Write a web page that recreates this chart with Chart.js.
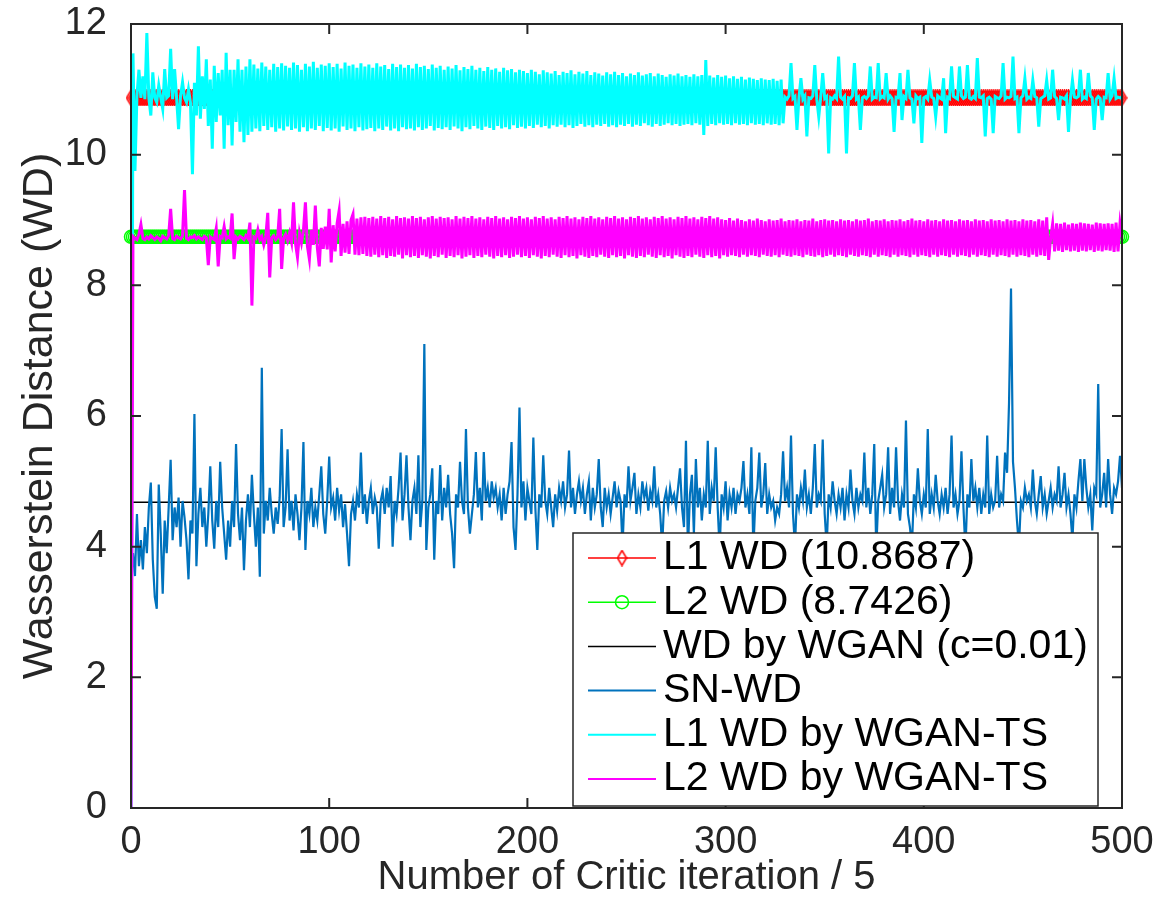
<!DOCTYPE html>
<html>
<head>
<meta charset="utf-8">
<title>Wasserstein Distance</title>
<script src="https://cdn.jsdelivr.net/npm/chart.js@4.4.0/dist/chart.umd.min.js"></script>
<style>
  html, body { margin: 0; padding: 0; background: #fff; }
  #wrap { width: 1162px; height: 906px; position: relative; }
</style>
</head>
<body>
<div id="wrap"><canvas id="wdChart"></canvas></div>
<script>
// reference distances (horizontal lines)
const l1WD = 10.8687;
const l2WD = 8.7426;
const wganWD = 4.68;

const xTicks = [0, 100, 200, 300, 400, 500];
const yTicks = [0, 2, 4, 6, 8, 10, 12];

const seriesLabels = [
  'L1 WD (10.8687)',
  'L2 WD (8.7426)',
  'WD by WGAN (c=0.01)',
  'SN-WD',
  'L1 WD by WGAN-TS',
  'L2 WD by WGAN-TS'
];

// SN-WD, one value per critic step (0..500)
const snWD = [
  3.6, 3.9, 3.55, 4.5, 3.7, 4.1, 3.65, 4.3, 3.9, 4.6, 4.98, 3.8, 3.23, 3.05, 4.95, 4.2, 3.28, 4.4, 3.9, 4.6,
  5.33, 4.1, 4.6, 4.3, 4.75, 4.0, 4.7, 4.45, 4.1, 3.5, 4.4, 4.2, 6.03, 3.7, 4.5, 4.9, 4.3, 4.6, 4.0, 4.5,
  5.23, 4.4, 3.97, 4.7, 4.3, 5.3, 4.6, 4.2, 3.8, 4.4, 4.0, 4.7, 4.3, 5.57, 4.5, 4.1, 4.6, 3.64, 4.4, 4.8,
  4.3, 5.1, 4.5, 4.0, 4.6, 3.54, 6.74, 4.2, 4.7, 4.4, 4.9, 4.5, 4.2, 4.6, 4.35, 4.75, 5.8, 4.3, 4.6, 5.49,
  4.4, 4.7, 4.25, 4.8, 4.5, 4.1, 4.6, 5.6, 3.95, 4.7, 4.5, 4.9, 4.3, 4.6, 4.4, 4.8, 5.23, 4.5, 4.2, 4.7,
  5.38, 4.6, 4.75, 4.4, 4.9, 4.55, 4.8, 4.3, 4.65, 4.2, 3.7, 4.5, 4.7, 4.4, 4.8, 4.6, 5.44, 4.5, 4.8, 4.35,
  4.7, 4.9, 4.5, 4.75, 4.6, 3.97, 4.7, 4.85, 4.5, 4.9, 4.6, 5.08, 4.0, 4.7, 4.5, 4.9, 5.44, 4.4, 4.8, 5.4,
  4.6, 4.1, 4.7, 4.9, 4.5, 5.4, 4.3, 4.7, 7.1, 3.95, 4.6, 4.8, 5.2, 3.8, 4.7, 4.5, 5.25, 4.4, 4.9, 4.6,
  5.1, 4.5, 4.2, 3.67, 4.8, 4.6, 5.3, 4.7, 4.5, 5.8, 4.6, 4.2, 4.5, 4.8, 5.45, 4.6, 4.9, 4.4, 5.45, 4.7,
  4.9, 4.6, 5.0, 4.75, 4.9, 4.6, 4.8, 4.4, 4.9, 4.5, 4.8, 5.0, 5.6, 4.3, 3.95, 4.8, 6.13, 4.6, 5.0, 4.4,
  4.9, 4.7, 4.5, 5.67, 4.6, 3.95, 4.8, 4.6, 5.4, 4.7, 4.5, 4.9, 4.6, 4.3, 4.8, 4.55, 4.9, 4.7, 5.0, 4.6,
  4.8, 5.47, 4.6, 4.9, 4.5, 4.8, 5.0, 4.7, 4.9, 4.5, 4.8, 5.0, 4.4, 4.9, 4.6, 4.8, 5.34, 4.6, 4.3, 4.9,
  4.6, 4.8, 4.5, 4.75, 5.0, 4.6, 4.85, 4.7, 4.0, 4.8, 4.6, 5.23, 4.7, 4.9, 5.13, 4.5, 4.8, 4.6, 5.0, 4.75,
  4.9, 4.55, 4.85, 4.7, 5.23, 4.6, 4.8, 4.5, 4.0, 4.7, 4.85, 4.6, 4.9, 4.7, 4.8, 4.6, 4.9, 5.2, 4.6, 4.3,
  5.62, 3.95, 4.8, 5.1, 4.2, 5.34, 4.6, 4.9, 4.4, 4.8, 4.6, 5.62, 4.5, 4.9, 4.7, 5.52, 4.6, 3.95, 4.8, 4.6,
  5.0, 4.4, 4.8, 4.6, 4.9, 4.5, 4.8, 4.7, 4.9, 5.31, 4.6, 4.8, 4.5, 5.52, 3.95, 4.7, 4.9, 5.44, 4.6, 4.8,
  5.28, 4.5, 4.8, 4.6, 4.7, 4.4, 4.6, 4.5, 4.8, 5.46, 4.7, 4.9, 4.6, 5.7, 4.5, 4.0, 4.8, 4.6, 4.9, 4.7,
  5.18, 4.6, 4.8, 4.5, 4.9, 5.57, 4.6, 4.8, 4.7, 5.64, 4.5, 4.0, 4.8, 4.6, 5.0, 4.7, 4.5, 4.8, 4.6, 4.9,
  4.4, 4.8, 4.6, 5.18, 4.7, 4.5, 4.9, 4.6, 4.8, 4.7, 5.44, 4.6, 4.9, 4.5, 4.8, 5.57, 3.95, 4.7, 4.9, 5.1,
  4.6, 4.8, 5.52, 4.5, 4.9, 4.6, 5.52, 4.7, 4.4, 4.8, 4.6, 5.93, 4.5, 4.3, 4.0, 4.8, 4.6, 5.2, 4.7, 4.5,
  4.8, 4.6, 5.8, 4.5, 4.8, 4.6, 5.1, 4.7, 4.5, 4.8, 4.6, 4.9, 4.5, 4.8, 5.7, 4.6, 4.8, 4.5, 4.7, 5.46,
  4.6, 3.95, 4.8, 4.6, 5.34, 4.7, 4.9, 4.6, 4.9, 4.5, 4.8, 4.6, 5.7, 4.5, 4.8, 4.6, 4.7, 5.39, 4.6, 4.8,
  4.7, 5.44, 5.13, 6.2, 7.95, 5.3, 4.9, 4.4, 4.0, 4.7, 4.6, 4.9, 4.7, 4.8, 4.6, 5.18, 4.7, 4.5, 4.8, 5.08,
  4.6, 4.8, 4.5, 4.7, 4.9, 4.6, 4.8, 4.7, 5.23, 4.6, 4.8, 5.13, 4.6, 4.8, 4.5, 4.1, 4.8, 4.6, 5.0, 5.34,
  4.7, 5.34, 4.9, 4.6, 4.8, 4.25, 4.9, 4.8, 6.49, 4.6, 4.8, 5.13, 4.6, 5.34, 4.8, 4.5, 4.9, 4.8, 5.0, 5.39,
  4.9
];

// L1 WD by WGAN-TS
const l1TS = [
  0, 11.55, 9.75, 10.9, 11.3, 10.87, 11.2, 10.85, 11.86, 10.87, 10.6, 11.26, 10.87, 10.8, 11.06, 10.87, 10.7, 11.31, 10.87, 10.9,
  11.62, 10.85, 11.31, 10.87, 10.39, 10.9, 11.11, 10.87, 10.8, 11.0, 10.8, 9.7, 11.1, 10.6, 11.66, 10.55, 11.2, 10.7, 11.46, 10.44,
  11.15, 10.09, 11.36, 10.5, 11.25, 10.6, 11.3, 10.09, 11.56, 10.45, 11.3, 10.14, 11.3, 10.5, 11.46, 10.35, 11.3, 10.19, 11.35, 10.3,
  11.46, 10.35, 11.38, 10.4, 11.32, 10.36, 11.41, 10.44, 11.35, 10.38, 11.3, 10.42, 11.39, 10.35, 11.34, 10.4, 11.4, 10.37, 11.36, 10.43,
  11.33, 10.38, 11.41, 10.4, 11.37, 10.35, 11.3, 10.42, 11.39, 10.36, 11.35, 10.4, 11.42, 10.38, 11.33, 10.44, 11.38, 10.36, 11.36, 10.41,
  11.4, 10.37, 11.34, 10.4, 11.39, 10.35, 11.32, 10.43, 11.41, 10.38, 11.36, 10.4, 11.38, 10.36, 11.33, 10.42, 11.4, 10.37, 11.35, 10.39,
  11.38, 10.41, 11.33, 10.36, 11.4, 10.4, 11.35, 10.38, 11.37, 10.43, 11.31, 10.37, 11.39, 10.4, 11.34, 10.36, 11.38, 10.42, 11.33, 10.39,
  11.37, 10.4, 11.32, 10.37, 11.39, 10.42, 11.34, 10.38, 11.36, 10.4, 11.31, 10.44, 11.38, 10.37, 11.33, 10.41, 11.36, 10.39, 11.3, 10.42,
  11.35, 10.38, 11.32, 10.43, 11.37, 10.4, 11.29, 10.36, 11.34, 10.42, 11.31, 10.39, 11.36, 10.44, 11.3, 10.4, 11.33, 10.38, 11.28, 10.43,
  11.34, 10.41, 11.3, 10.38, 11.32, 10.44, 11.27, 10.4, 11.33, 10.42, 11.29, 10.39, 11.31, 10.45, 11.26, 10.41, 11.3, 10.43, 11.28, 10.4,
  11.25, 10.44, 11.3, 10.41, 11.27, 10.46, 11.23, 10.42, 11.29, 10.44, 11.26, 10.4, 11.24, 10.45, 11.28, 10.43, 11.22, 10.46, 11.27, 10.42,
  11.25, 10.45, 11.29, 10.41, 11.23, 10.44, 11.27, 10.47, 11.24, 10.43, 11.28, 10.45, 11.22, 10.42, 11.26, 10.46, 11.24, 10.44, 11.21, 10.47,
  11.26, 10.43, 11.23, 10.45, 11.27, 10.42, 11.22, 10.46, 11.25, 10.44, 11.2, 10.47, 11.24, 10.43, 11.22, 10.46, 11.26, 10.44, 11.21, 10.48,
  11.23, 10.45, 11.25, 10.43, 11.2, 10.47, 11.24, 10.44, 11.22, 10.46, 11.19, 10.48, 11.23, 10.45, 11.21, 10.47, 11.24, 10.44, 11.2, 10.46,
  11.22, 10.47, 11.19, 10.45, 11.23, 10.48, 11.2, 10.46, 11.22, 10.3, 11.45, 10.44, 11.21, 10.47, 11.18, 10.45, 11.22, 10.48, 11.19, 10.46,
  11.21, 10.47, 11.17, 10.45, 11.2, 10.48, 11.16, 10.46, 11.19, 10.47, 11.15, 10.45, 11.18, 10.48, 11.16, 10.46, 11.14, 10.47, 11.17, 10.45,
  11.15, 10.48, 11.14, 10.46, 11.16, 10.47, 11.13, 10.45, 11.15, 10.48, 10.88, 10.85, 10.9, 11.4, 10.86, 10.89, 10.38, 10.87, 11.17, 10.85,
  10.9, 10.28, 10.87, 10.86, 10.9, 11.37, 10.85, 10.58, 10.88, 11.25, 10.86, 10.89, 10.02, 10.87, 10.85, 10.9, 10.86, 11.5, 10.88, 10.85,
  10.89, 10.02, 10.87, 10.86, 10.9, 11.4, 10.85, 10.88, 10.38, 10.87, 10.89, 10.86, 10.9, 11.35, 10.85, 10.88, 10.87, 11.4, 10.86, 10.89,
  10.87, 11.25, 10.85, 10.9, 10.86, 10.35, 10.88, 10.87, 11.25, 10.53, 10.89, 10.86, 11.3, 10.87, 10.85, 10.48, 10.9, 10.86, 10.88, 10.18,
  10.87, 10.89, 10.85, 11.14, 10.88, 10.86, 10.58, 10.9, 10.87, 10.85, 11.17, 10.33, 10.88, 10.86, 11.35, 10.89, 10.87, 10.85, 11.35, 10.9,
  10.86, 10.88, 11.37, 10.87, 10.85, 10.89, 10.86, 11.48, 10.88, 10.87, 10.9, 10.28, 10.86, 10.88, 10.85, 10.33, 10.89, 10.87, 10.86, 10.9,
  11.4, 10.85, 10.88, 10.87, 10.89, 11.5, 10.86, 10.88, 10.33, 10.87, 10.9, 11.17, 10.85, 10.88, 10.86, 11.14, 10.89, 10.87, 10.43, 10.86,
  10.88, 10.9, 11.14, 10.85, 10.87, 11.3, 10.89, 10.86, 10.53, 10.88, 10.87, 10.85, 10.9, 10.35, 10.86, 11.14, 10.88, 10.87, 10.89, 11.3,
  10.85, 10.88, 10.86, 11.25, 10.9, 10.87, 10.38, 10.85, 10.89, 10.86, 10.53, 10.88, 10.87, 11.25, 10.85, 10.9, 11.17, 10.86, 10.88, 10.87,
  10.87
];

// L2 WD by WGAN-TS
const l2TS = [
  0, 8.75, 8.72, 8.7, 8.78, 8.93, 8.72, 8.7, 8.74, 8.71, 8.76, 8.73, 8.7, 8.74, 8.72, 8.68, 8.75, 8.73, 8.71, 8.76,
  9.17, 8.72, 8.7, 8.75, 8.73, 8.71, 8.76, 9.46, 8.72, 8.7, 8.74, 8.73, 8.76, 8.71, 8.74, 8.72, 8.7, 8.75, 8.73, 8.31,
  8.74, 8.72, 8.7, 8.87, 8.29, 8.75, 8.73, 8.9, 8.71, 8.74, 8.72, 9.1, 8.4, 8.74, 8.71, 8.75, 8.73, 8.7, 8.76, 8.72,
  8.96, 7.69, 8.74, 8.72, 8.85, 8.7, 8.75, 8.62, 8.74, 9.11, 8.12, 8.73, 8.76, 8.7, 8.74, 9.17, 8.25, 8.72, 8.78, 8.68,
  8.8, 8.66, 9.27, 8.64, 8.43, 8.8, 8.65, 8.84, 9.27, 8.6, 8.4, 8.85, 8.62, 9.22, 8.58, 8.29, 8.88, 8.56, 8.9, 8.55,
  9.17, 8.35, 8.92, 8.52, 8.95, 9.14, 8.45, 8.94, 8.5, 8.98, 8.48, 9.0, 9.09, 8.47, 9.02, 8.46, 9.04, 8.48, 9.05, 8.45,
  9.03, 8.44, 9.05, 8.47, 9.02, 8.43, 9.06, 8.46, 9.03, 8.42, 9.05, 8.45, 9.01, 8.44, 9.06, 8.47, 9.03, 8.41, 9.04, 8.46,
  9.02, 8.43, 9.06, 8.45, 9.03, 8.42, 9.05, 8.46, 9.01, 8.44, 9.04, 8.41, 9.06, 8.45, 9.02, 8.43, 9.05, 8.47, 9.03, 8.42,
  9.04, 8.45, 9.01, 8.43, 9.06, 8.46, 9.02, 8.41, 9.05, 8.44, 9.03, 8.46, 9.06, 8.42, 9.02, 8.45, 9.04, 8.43, 9.01, 8.47,
  9.05, 8.44, 9.03, 8.41, 9.06, 8.45, 9.02, 8.43, 9.04, 8.46, 9.01, 8.42, 9.05, 8.44, 9.03, 8.47, 9.06, 8.43, 9.02, 8.45,
  9.04, 8.42, 9.01, 8.46, 9.05, 8.44, 9.03, 8.41, 9.06, 8.45, 9.02, 8.43, 9.04, 8.47, 9.01, 8.44, 9.05, 8.42, 9.03, 8.46,
  9.06, 8.43, 9.02, 8.45, 9.04, 8.41, 9.01, 8.46, 9.05, 8.44, 9.03, 8.42, 9.06, 8.45, 9.02, 8.43, 9.04, 8.47, 9.01, 8.44,
  9.05, 8.42, 9.03, 8.46, 9.06, 8.43, 9.02, 8.45, 9.04, 8.41, 9.01, 8.46, 9.05, 8.44, 9.03, 8.42, 9.06, 8.45, 9.02, 8.43,
  9.04, 8.47, 9.01, 8.44, 9.05, 8.42, 9.03, 8.46, 9.06, 8.43, 9.02, 8.45, 9.04, 8.41, 9.01, 8.46, 9.05, 8.44, 9.03, 8.42,
  9.06, 8.45, 9.02, 8.43, 9.04, 8.47, 9.01, 8.44, 9.05, 8.42, 9.03, 8.46, 9.06, 8.43, 9.02, 8.45, 9.04, 8.41, 9.01, 8.46,
  9.0, 8.44, 9.03, 8.46, 8.99, 8.45, 9.02, 8.43, 9.0, 8.47, 8.98, 8.44, 9.01, 8.46, 8.99, 8.45, 9.02, 8.43, 9.0, 8.47,
  8.98, 8.45, 9.01, 8.44, 8.99, 8.46, 9.0, 8.43, 9.02, 8.47, 8.98, 8.45, 9.0, 8.44, 8.99, 8.46, 9.01, 8.45, 8.98, 8.43,
  9.0, 8.47, 8.99, 8.45, 9.02, 8.44, 8.98, 8.46, 9.0, 8.43, 9.01, 8.45, 8.99, 8.47, 9.0, 8.44, 8.98, 8.46, 9.01, 8.45,
  8.99, 8.43, 9.0, 8.47, 8.98, 8.45, 9.01, 8.44, 8.99, 8.46, 9.0, 8.45, 9.02, 8.43, 8.98, 8.47, 9.0, 8.44, 8.99, 8.46,
  9.01, 8.45, 8.98, 8.43, 9.0, 8.47, 8.99, 8.44, 9.01, 8.46, 8.98, 8.45, 9.0, 8.43, 9.02, 8.47, 8.99, 8.44, 9.0, 8.46,
  8.98, 8.45, 9.01, 8.43, 8.99, 8.47, 9.0, 8.44, 8.98, 8.46, 9.01, 8.45, 8.99, 8.43, 9.0, 8.47, 8.98, 8.44, 9.01, 8.46,
  8.99, 8.45, 9.0, 8.43, 8.98, 8.47, 9.01, 8.44, 8.99, 8.46, 9.0, 8.45, 8.98, 8.43, 9.01, 8.47, 8.99, 8.44, 9.0, 8.46,
  8.98, 8.45, 9.01, 8.43, 8.99, 8.47, 9.0, 8.44, 8.98, 8.46, 9.01, 8.45, 8.99, 8.43, 9.0, 8.47, 8.98, 8.44, 9.01, 8.46,
  8.99, 8.45, 9.04, 8.39, 8.72, 8.94, 8.52, 8.95, 8.53, 8.94, 8.51, 8.96, 8.54, 8.93, 8.52, 8.95, 8.53, 8.94, 8.51, 8.96,
  8.53, 8.95, 8.52, 8.94, 8.54, 8.93, 8.51, 8.96, 8.53, 8.95, 8.52, 8.94, 8.54, 8.95, 8.53, 8.94, 8.51, 8.96, 8.52, 8.95,
  8.74
];

const FONT = "'Liberation Sans', Arial, Helvetica, sans-serif";
const AXIS_COLOR = '#262626';

const toPoints = vals => vals.map((v, i) => ({ x: i, y: v }));
const flatLine = level => snWD.map((_, i) => ({ x: i, y: level }));

// hollow, slightly tall diamond like MATLAB's 'd' marker
function diamondMarker(color) {
  const c = document.createElement('canvas');
  c.width = 11;
  c.height = 17;
  const g = c.getContext('2d');
  g.strokeStyle = color;
  g.lineWidth = 1.5;
  g.beginPath();
  g.moveTo(5.5, 1);
  g.lineTo(10, 8.5);
  g.lineTo(5.5, 16);
  g.lineTo(1, 8.5);
  g.closePath();
  g.stroke();
  return c;
}
const redDiamond = diamondMarker('#ff0000');

// box + inward tick marks on all four sides
const matlabAxes = {
  id: 'matlabAxes',
  afterDraw(chart) {
    const { ctx, chartArea: a, scales: { x, y } } = chart;
    ctx.save();
    ctx.strokeStyle = AXIS_COLOR;
    ctx.lineWidth = 2;
    ctx.beginPath();
    xTicks.forEach(v => {
      const px = x.getPixelForValue(v);
      ctx.moveTo(px, a.bottom); ctx.lineTo(px, a.bottom - 10);
      ctx.moveTo(px, a.top); ctx.lineTo(px, a.top + 10);
    });
    yTicks.forEach(v => {
      const py = y.getPixelForValue(v);
      ctx.moveTo(a.left, py); ctx.lineTo(a.left + 10, py);
      ctx.moveTo(a.right, py); ctx.lineTo(a.right - 10, py);
    });
    ctx.stroke();
    ctx.strokeRect(a.left, a.top, a.right - a.left, a.bottom - a.top);
    ctx.restore();
  }
};

// legend box in the lower right corner of the axes
const legendBox = {
  id: 'legendBox',
  afterDraw(chart) {
    const { ctx, chartArea: a } = chart;
    const right = a.right - 24, bottom = a.bottom - 2;
    const left = right - 525, top = bottom - 273;
    const rowH = 44.2;
    ctx.save();
    ctx.fillStyle = '#fff';
    ctx.fillRect(left, top, right - left, bottom - top);
    ctx.strokeStyle = AXIS_COLOR;
    ctx.lineWidth = 1.5;
    ctx.strokeRect(left, top, right - left, bottom - top);
    ctx.font = '41px ' + FONT;
    ctx.textBaseline = 'middle';
    ctx.textAlign = 'left';
    chart.data.datasets.forEach((ds, i) => {
      const cy = top + 25 + i * rowH;
      ctx.strokeStyle = ds.borderColor;
      ctx.lineWidth = Math.min(ds.borderWidth, 2);
      ctx.beginPath();
      ctx.moveTo(left + 15, cy);
      ctx.lineTo(left + 83, cy);
      ctx.stroke();
      const mx = left + 49;
      if (ds.pointStyle instanceof HTMLCanvasElement) {
        ctx.drawImage(ds.pointStyle, mx - ds.pointStyle.width / 2, cy - ds.pointStyle.height / 2);
      } else if (ds.pointStyle === 'circle') {
        ctx.lineWidth = ds.pointBorderWidth;
        ctx.beginPath();
        ctx.arc(mx, cy, ds.pointRadius, 0, Math.PI * 2);
        ctx.stroke();
      }
      ctx.fillStyle = '#000';
      ctx.fillText(ds.label, left + 90, cy);
    });
    ctx.restore();
  }
};

Chart.defaults.font.family = FONT;

new Chart(document.getElementById('wdChart'), {
  type: 'line',
  data: {
    datasets: [
      {
        label: seriesLabels[0], data: flatLine(l1WD),
        borderColor: '#ff0000', borderWidth: 1.5,
        pointStyle: redDiamond, pointRadius: 6,
        clip: false, order: 6
      },
      {
        label: seriesLabels[1], data: flatLine(l2WD),
        borderColor: '#00ff00', borderWidth: 1.5,
        pointStyle: 'circle', pointRadius: 6.5, pointBorderWidth: 1.5,
        pointBorderColor: '#00ff00', pointBackgroundColor: 'rgba(0,0,0,0)',
        clip: false, order: 5
      },
      {
        label: seriesLabels[2], data: flatLine(wganWD),
        borderColor: '#000000', borderWidth: 1.5, pointRadius: 0, order: 4
      },
      {
        label: seriesLabels[3], data: toPoints(snWD),
        borderColor: '#0072bd', borderWidth: 2.2, pointRadius: 0, order: 3
      },
      {
        label: seriesLabels[4], data: toPoints(l1TS),
        borderColor: '#00ffff', borderWidth: 3, pointRadius: 0, order: 2
      },
      {
        label: seriesLabels[5], data: toPoints(l2TS),
        borderColor: '#ff00ff', borderWidth: 3, pointRadius: 0, order: 1
      }
    ]
  },
  options: {
    responsive: true,
    maintainAspectRatio: false,
    animation: false,
    events: [],
    layout: { padding: { top: 24, right: 40, left: 0, bottom: 0 } },
    elements: { line: { tension: 0 } },
    plugins: {
      legend: { display: false },
      tooltip: { enabled: false }
    },
    scales: {
      x: {
        type: 'linear', min: 0, max: 500,
        afterBuildTicks: s => { s.ticks = xTicks.map(v => ({ value: v })); },
        afterFit: s => { s.height = 98; s.paddingLeft = 0; s.paddingRight = 0; },
        grid: { display: false },
        border: { display: false },
        ticks: {
          color: AXIS_COLOR, font: { size: 38 }, padding: 4,
          maxRotation: 0, autoSkip: false
        },
        title: {
          display: true, text: 'Number of Critic iteration / 5',
          color: AXIS_COLOR, font: { size: 40 },
          padding: { top: 0, bottom: 4 }
        }
      },
      y: {
        type: 'linear', min: 0, max: 12,
        afterBuildTicks: s => { s.ticks = yTicks.map(v => ({ value: v })); },
        afterFit: s => { s.width = 131; s.paddingTop = 0; s.paddingBottom = 0; },
        grid: { display: false },
        border: { display: false },
        ticks: { color: AXIS_COLOR, font: { size: 38 }, padding: 16 },
        title: {
          display: true, text: 'Wasserstein Distance (WD)',
          color: AXIS_COLOR, font: { size: 43 },
          padding: { top: 14, bottom: 0 }
        }
      }
    }
  },
  plugins: [matlabAxes, legendBox]
});
</script>
</body>
</html>
